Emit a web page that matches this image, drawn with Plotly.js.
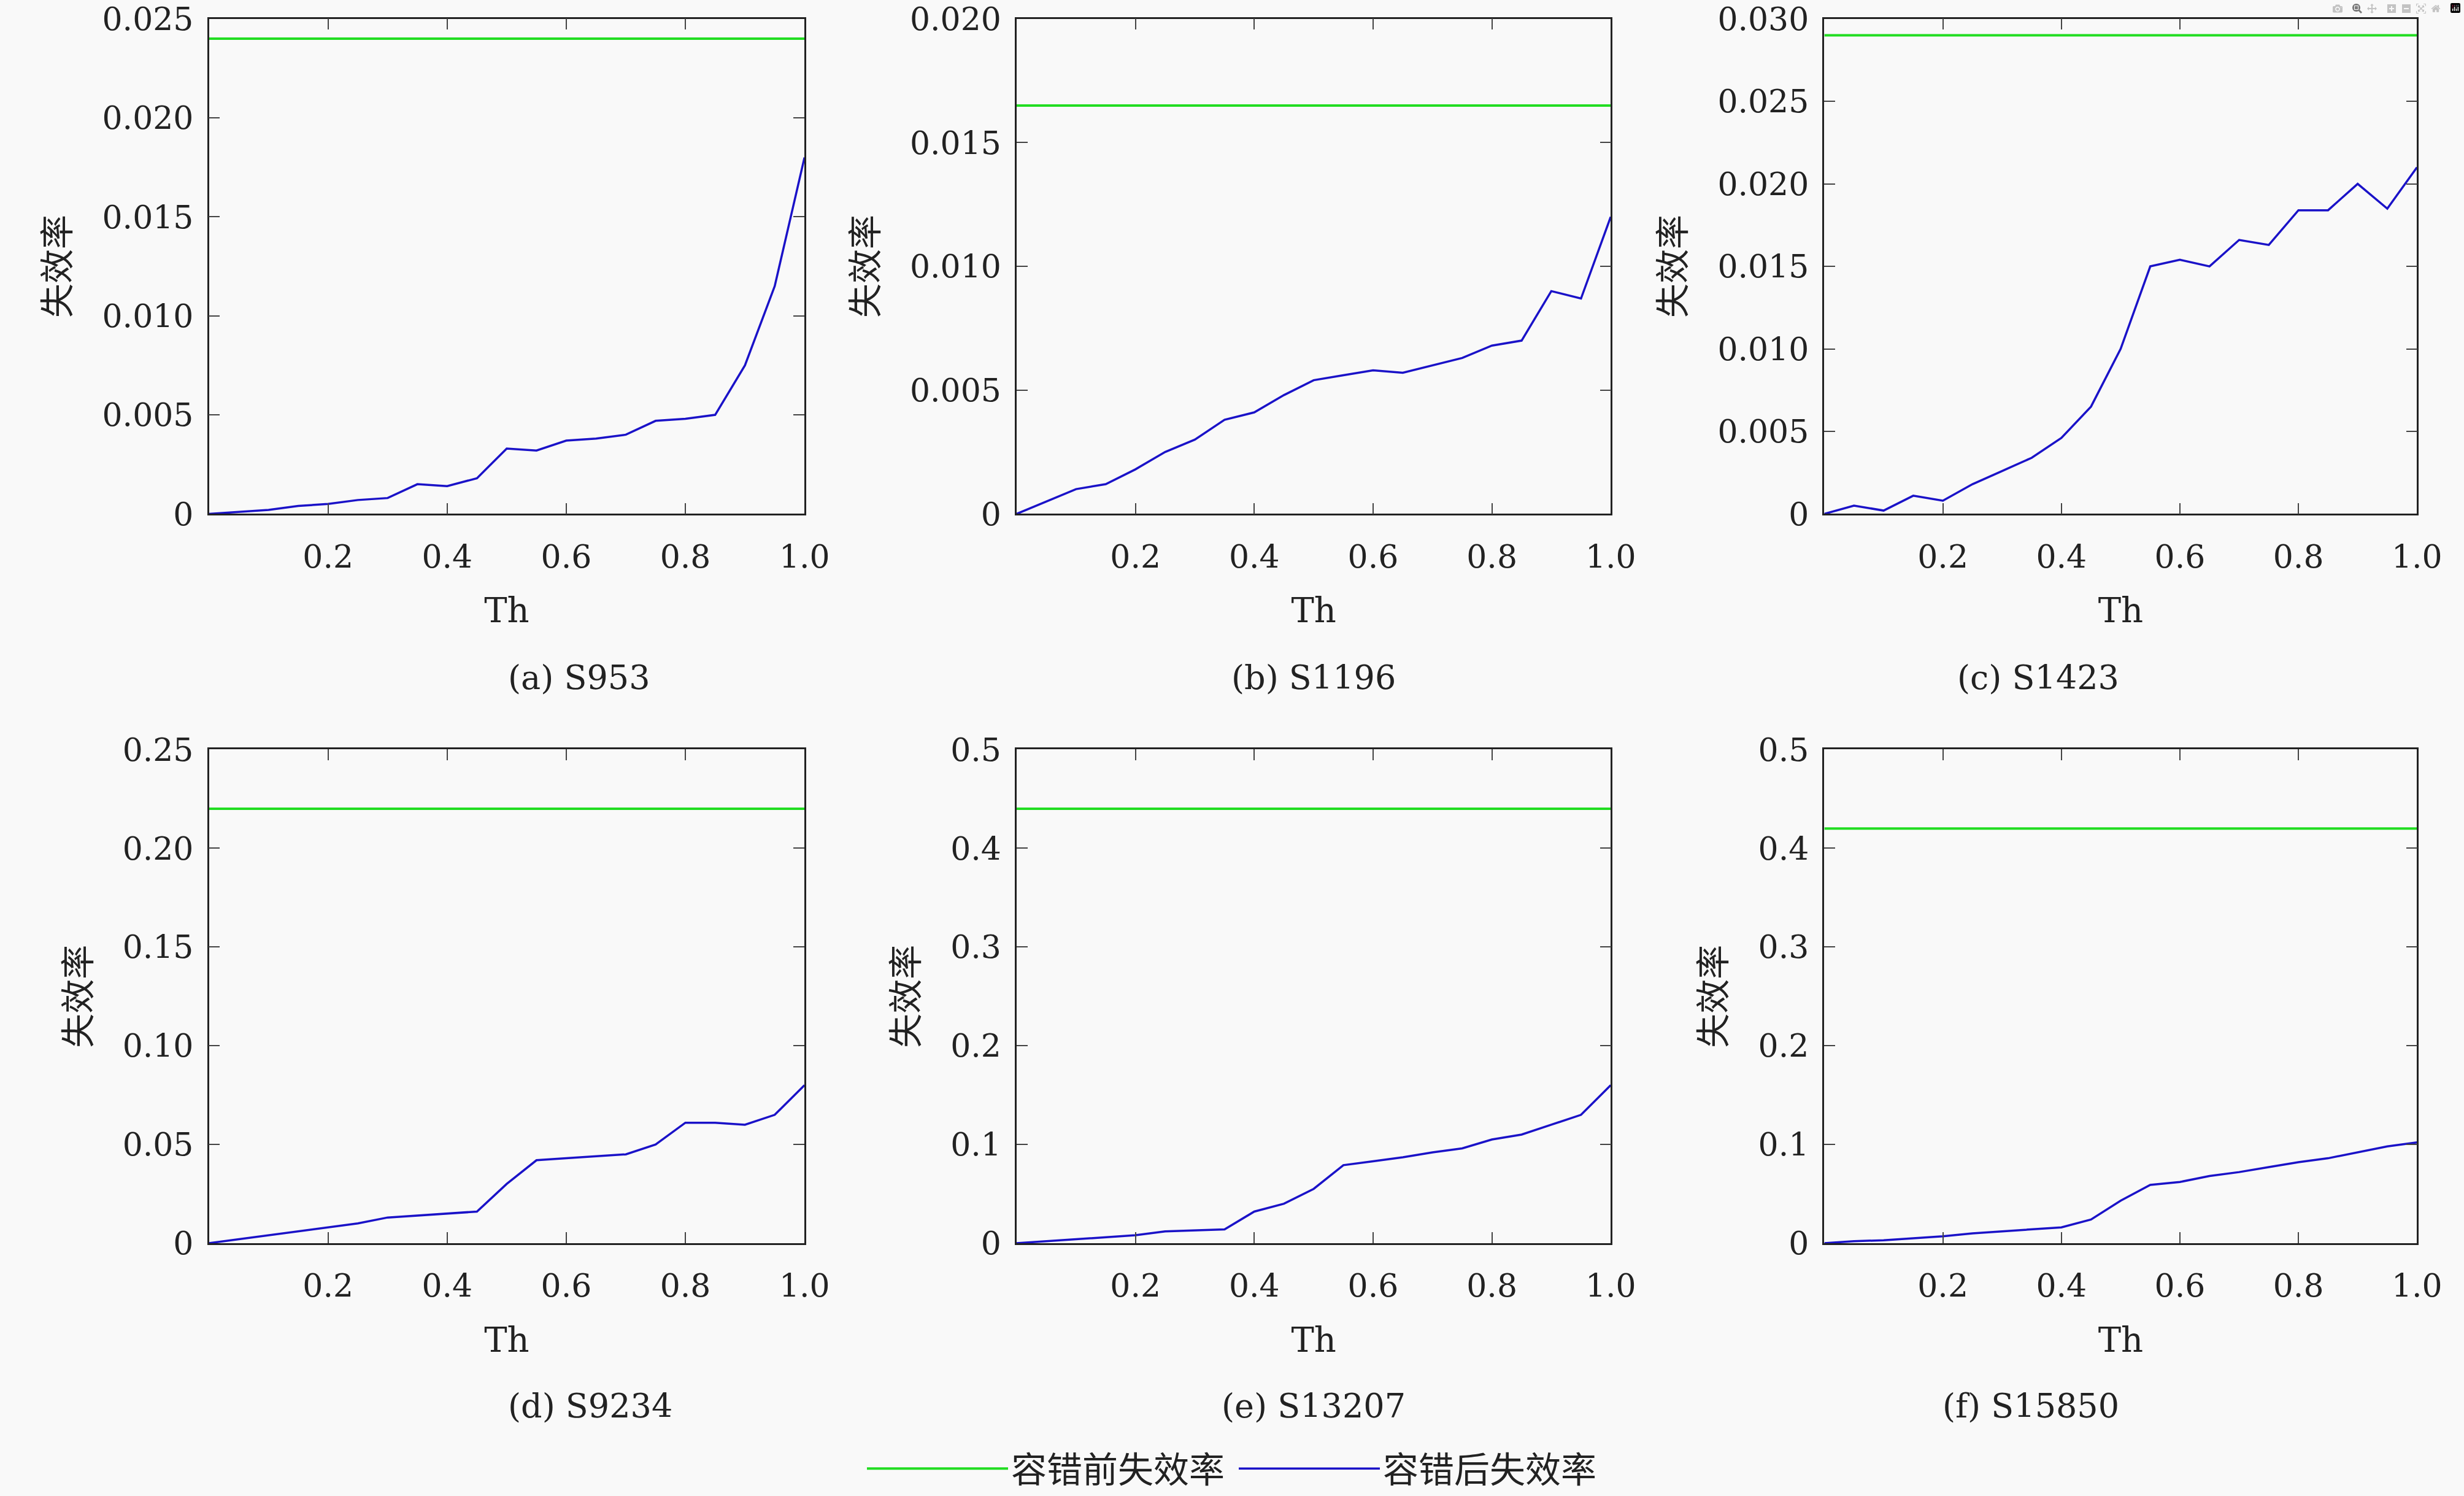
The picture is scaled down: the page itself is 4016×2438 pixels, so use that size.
<!DOCTYPE html>
<html>
<head>
<meta charset="utf-8">
<script src="https://cdn.plot.ly/plotly-3.0.1.min.js"></script>
<style>body{margin:0;background:#f9f9f9}</style>
</head>
<body>
<div id="chart" style="width:4016px;height:2438px"></div>
<script>
// x values of threshold Th
let th = [0,0.05,0.1,0.15,0.2,0.25,0.3,0.35,0.4,0.45,0.5,0.55,0.6,0.65,0.7,0.75,0.8,0.85,0.9,0.95,1.0];

let names = ["(a) S953", "(b) S1196", "(c) S1423", "(d) S9234", "(e) S13207", "(f) S15850"];

// failure rate before fault tolerance (flat)
let before = [0.024, 0.0165, 0.029, 0.22, 0.44, 0.42];

// failure rate after fault tolerance
let afterA = [0,0.0001,0.0002,0.0004,0.0005,0.0007,0.0008,0.0015,0.0014,0.0018,0.0033,0.0032,0.0037,0.0038,0.0040,0.0047,0.0048,0.0050,0.0075,0.0115,0.018];
let afterB = [0,0.0005,0.001,0.0012,0.0018,0.0025,0.003,0.0038,0.0041,0.0048,0.0054,0.0056,0.0058,0.0057,0.006,0.0063,0.0068,0.007,0.009,0.0087,0.012];
let afterC = [0,0.0005,0.0002,0.0011,0.0008,0.0018,0.0026,0.0034,0.0046,0.0065,0.01,0.015,0.0154,0.015,0.0166,0.0163,0.0184,0.0184,0.02,0.0185,0.021];
let afterD = [0,0.002,0.004,0.006,0.008,0.010,0.013,0.014,0.015,0.016,0.030,0.042,0.043,0.044,0.045,0.05,0.061,0.061,0.060,0.065,0.08];
let afterE = [0,0.002,0.004,0.006,0.008,0.012,0.013,0.014,0.032,0.04,0.055,0.079,0.083,0.087,0.092,0.096,0.105,0.11,0.12,0.13,0.16];
let afterF = [0,0.002,0.003,0.005,0.007,0.01,0.012,0.014,0.016,0.024,0.043,0.059,0.062,0.068,0.072,0.077,0.082,0.086,0.092,0.098,0.102];
let after = [afterA, afterB, afterC, afterD, afterE, afterF];

// y tick labels per panel
let yTicks = [
    [0,0.005,0.010,0.015,0.020,0.025],
    [0,0.005,0.010,0.015,0.020],
    [0,0.005,0.010,0.015,0.020,0.025,0.030],
    [0,0.05,0.10,0.15,0.20,0.25],
    [0,0.1,0.2,0.3,0.4,0.5],
    [0,0.1,0.2,0.3,0.4,0.5]
];
let yText = [
    ["0","0.005","0.010","0.015","0.020","0.025"],
    ["0","0.005","0.010","0.015","0.020"],
    ["0","0.005","0.010","0.015","0.020","0.025","0.030"],
    ["0","0.05","0.10","0.15","0.20","0.25"],
    ["0","0.1","0.2","0.3","0.4","0.5"],
    ["0","0.1","0.2","0.3","0.4","0.5"]
];
let xTicks = [0.2,0.4,0.6,0.8,1.0];
let xText = ["0.2","0.4","0.6","0.8","1.0"];

let xDom = [[0.0848,0.3265],[0.4126,0.6537],[0.7404,0.9809]];
let yDom = [[0.6565,0.9874],[0.169,0.499]];
let capY = [0.547, 0.06];

let serif = "DejaVu Serif, Liberation Serif, serif";
let cjk = "Noto Sans CJK SC";
let green = "#22dd22", blue = "#1a12c8";

let traces = [];
let layout = {
    width: 4016, height: 2438,
    paper_bgcolor: "#f9f9f9", plot_bgcolor: "#f9f9f9",
    margin: {l: 0, r: 0, t: 0, b: 0},
    font: {family: serif, size: 52, color: "#222"},
    showlegend: true,
    legend: {orientation: "h", x: 0.5, xanchor: "center", y: 0.0, yanchor: "bottom",
             font: {family: cjk, size: 58}, bgcolor: "rgba(0,0,0,0)", itemwidth: 230,
             tracegroupgap: 40},
    annotations: []
};

for (let i = 0; i < 6; i++) {
    let n = i + 1, xs = n === 1 ? "" : String(n);
    let col = i % 3, row = Math.floor(i / 3);
    traces.push({
        x: [0, 1], y: [before[i], before[i]], xaxis: "x" + xs, yaxis: "y" + xs,
        mode: "lines", line: {color: green, width: 4}, name: "容错前失效率 ", showlegend: i === 0
    });
    traces.push({
        x: th, y: after[i], xaxis: "x" + xs, yaxis: "y" + xs,
        mode: "lines", line: {color: blue, width: 3.5}, name: "容错后失效率", showlegend: i === 0
    });
    let ymax = yTicks[i][yTicks[i].length - 1];
    layout["xaxis" + xs] = {
        domain: xDom[col], anchor: "y" + xs, range: [0, 1],
        tickvals: xTicks, ticktext: xText, ticks: "inside", ticklen: 18, tickwidth: 2,
        ticklabelstandoff: 22,
        mirror: "ticks", showline: true, linecolor: "#222", linewidth: 2.5, showgrid: false, zeroline: false,
        title: {text: "Th", font: {family: serif, size: 56}, standoff: 40}
    };
    layout["yaxis" + xs] = {
        domain: yDom[row], anchor: "x" + xs, range: [0, ymax],
        tickvals: yTicks[i], ticktext: yText[i], ticks: "inside", ticklen: 18, tickwidth: 2,
        ticklabelstandoff: 12,
        mirror: "ticks", showline: true, linecolor: "#222", linewidth: 2.5, showgrid: false, zeroline: false,
        title: {text: "失效率", font: {family: cjk, size: 56}, standoff: 35}
    };
    layout.annotations.push({
        text: names[i], xref: "paper", yref: "paper", showarrow: false,
        x: (xDom[col][0] + xDom[col][1]) / 2, y: capY[row], yanchor: "middle",
        font: {family: serif, size: 54}
    });
}

Plotly.newPlot("chart", traces, layout);
</script>
</body>
</html>
